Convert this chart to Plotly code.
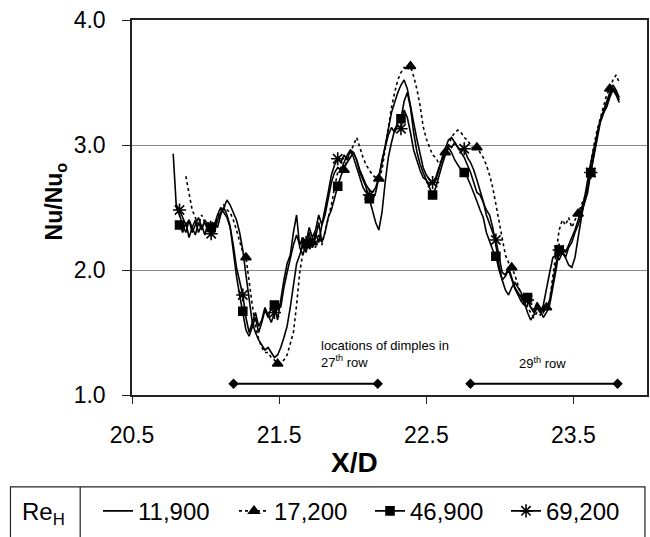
import plotly.graph_objects as go

# Measurement stations along the channel (X/D), equally spaced
XD_START = 20.78
XD_STEP = 0.0215

re_labels = ["11,900", "17,200", "46,900", "69,200"]

# Nu/Nu_o for each Reynolds number (one value per station, None = no data)
nu_11900 = [
    2.93, 2.50, 2.44, 2.36, 2.30, 2.40, 2.34, 2.28, 2.38, 2.32,
    2.40, 2.36, 2.30, 2.38, 2.34, 2.44, 2.50, 2.56, 2.52, 2.46,
    2.40, 2.30, 2.16, 1.96, 1.76, 1.58, 1.50, 1.44, 1.40, 1.36,
    1.38, 1.34, 1.30, 1.32, 1.38, 1.46, 1.55, 1.70, 1.88, 2.05,
    2.12, 2.20, 2.14, 2.26, 2.18, 2.30, 2.22, 2.36, 2.44, 2.58,
    2.70, 2.78, 2.82, 2.80, 2.86, 2.92, 2.96, 2.94, 2.88, 2.80,
    2.74, 2.68, 2.64, 2.62, 2.66, 2.74, 2.86, 3.00, 3.15, 3.26,
    3.34, 3.42, 3.48, 3.52, 3.45, 3.30, 3.18, 3.05, 2.92, 2.82,
    2.76, 2.72, 2.69, 2.72, 2.80, 2.90, 2.98, 3.04, 3.06, 3.02,
    2.98, 2.94, 2.90, 2.84, 2.78, 2.70, 2.62, 2.60, 2.54, 2.48,
    2.44, 2.34, 2.20, 2.04, 1.92, 1.84, 1.80, 1.86, 1.90, 1.86,
    1.82, 1.74, 1.66, 1.60, 1.64, 1.70, 1.66, 1.72, 1.86, 1.98,
    2.10, 2.12, 2.08, 2.14, 2.10, 2.04, 2.02, 2.10, 2.26, 2.42,
    2.58, 2.72, 2.86, 2.98, 3.08, 3.20, 3.26, 3.30, 3.38, 3.44,
    3.40, 3.34,
]

nu_17200 = [
    None, None, None, None, 2.75, 2.62, 2.48, 2.42, 2.36, 2.44,
    2.38, 2.32, 2.40, 2.34, 2.42, 2.48, 2.52, 2.48, 2.46, 2.40,
    2.32, 2.22, 2.14, 2.10, 1.90, 1.72, 1.55, 1.45, 1.38, 1.34,
    1.34, 1.30, 1.28, 1.25, 1.26, 1.28, 1.32, 1.40, 1.50, 1.72,
    1.98, 2.14, 2.20, 2.16, 2.22, 2.18, 2.28, 2.20, 2.30, 2.40,
    2.52, 2.66, 2.78, 2.82, 2.80, 2.88, 2.94, 3.00, 3.06, 2.98,
    2.90, 2.84, 2.80, 2.76, 2.74, 2.73, 2.80, 2.96, 3.12, 3.30,
    3.42, 3.52, 3.58, 3.62, 3.60, 3.63, 3.55, 3.45, 3.32, 3.15,
    3.05, 2.98, 2.92, 2.90, 2.85, 2.88, 2.94, 3.00, 3.06, 3.10,
    3.12, 3.10, 3.06, 3.04, 3.00, 2.96, 2.98, 2.94, 2.90, 2.84,
    2.76, 2.66, 2.52, 2.38, 2.24, 2.12, 2.06, 2.02, 1.96, 1.88,
    1.80, 1.74, 1.70, 1.66, 1.62, 1.66, 1.64, 1.68, 1.70, 1.76,
    1.95, 2.15, 2.32, 2.40, 2.36, 2.42, 2.34, 2.40, 2.45, 2.52,
    2.58, 2.70, 2.86, 3.00, 3.12, 3.22, 3.32, 3.40, 3.45, 3.52,
    3.56, 3.50,
]

nu_46900 = [
    None, 2.38, 2.36, 2.30, 2.38, 2.26, 2.34, 2.40, 2.30, 2.36,
    2.28, 2.38, 2.34, 2.30, 2.40, 2.46, 2.50, 2.44, 2.35, 2.15,
    1.95, 1.80, 1.67, 1.52, 1.47, 1.55, 1.62, 1.50, 1.58, 1.68,
    1.62, 1.70, 1.72, 1.60, 1.78, 1.92, 2.05, 2.12, 2.30, 2.44,
    2.18, 2.12, 2.21, 2.30, 2.18, 2.26, 2.38, 2.22, 2.30, 2.42,
    2.48, 2.58, 2.67, 2.75, 2.82, 2.86, 2.90, 2.94, 2.88, 2.78,
    2.72, 2.66, 2.57, 2.48, 2.38, 2.32, 2.46, 2.70, 2.90, 3.02,
    3.12, 3.18, 3.21, 3.35, 3.42, 3.30, 3.10, 2.95, 2.85, 2.78,
    2.72, 2.65, 2.60, 2.66, 2.76, 2.84, 2.92, 2.98, 2.94, 2.88,
    2.84, 2.80, 2.78, 2.74, 2.68, 2.62, 2.55, 2.48, 2.42, 2.30,
    2.22, 2.16, 2.11, 2.00, 1.92, 1.95, 2.00, 1.92, 1.85, 1.80,
    1.75, 1.72, 1.78, 1.70, 1.66, 1.72, 1.68, 1.62, 1.66, 1.72,
    1.85, 2.00, 2.16, 2.15, 2.10, 2.18, 2.22, 2.30, 2.36, 2.45,
    2.52, 2.62, 2.78, 2.92, 3.05, 3.18, 3.25, 3.32, 3.40, 3.45,
    3.42, 3.36,
]

nu_69200 = [
    None, 2.52, 2.48, 2.42, 2.36, 2.40, 2.30, 2.36, 2.42, 2.34,
    2.38, 2.32, 2.29, 2.36, 2.44, 2.50, 2.46, 2.42, 2.34, 2.20,
    2.02, 1.90, 1.80, 1.62, 1.50, 1.58, 1.66, 1.55, 1.60, 1.70,
    1.64, 1.58, 1.66, 1.74, 1.70, 1.86, 1.98, 2.10, 2.20, 2.28,
    2.20, 2.26, 2.22, 2.34, 2.26, 2.32, 2.44, 2.36, 2.48, 2.62,
    2.76, 2.84, 2.89, 2.86, 2.92, 2.88, 2.96, 2.90, 2.82, 2.74,
    2.66, 2.62, 2.60, 2.56, 2.62, 2.74, 2.88, 2.98, 3.08, 3.14,
    3.10, 3.16, 3.13, 3.28, 3.22, 3.10, 2.96, 2.88, 2.80, 2.74,
    2.72, 2.68, 2.70, 2.74, 2.82, 2.88, 2.94, 3.00, 2.98, 3.02,
    2.98, 2.96, 2.97, 2.90, 2.86, 2.80, 2.72, 2.64, 2.55, 2.44,
    2.36, 2.30, 2.24, 2.10, 1.98, 1.96, 2.02, 1.94, 1.86, 1.82,
    1.78, 1.74, 1.76, 1.70, 1.68, 1.74, 1.70, 1.66, 1.70, 1.76,
    1.90, 2.05, 2.16, 2.18, 2.14, 2.20, 2.26, 2.32, 2.40, 2.48,
    2.56, 2.66, 2.78, 2.94, 3.08, 3.20, 3.28, 3.34, 3.42, 3.48,
    3.44, 3.38,
]

# Stations that carry a symbol on each curve
marks_17200 = [23, 33, 44, 54, 65, 75, 86, 96, 107, 118, 128, 138]
marks_46900 = [2, 12, 22, 32, 42, 52, 62, 72, 82, 92, 102, 112, 122, 132]
marks_69200 = [2, 12, 22, 32, 42, 52, 62, 72, 82, 92, 102, 112, 122, 132]

# Streamwise extent of the dimple rows
row27_xd = [21.19, 22.17]
row29_xd = [22.80, 23.80]
row_level = [1.09, 1.09]

FONT = "Arial, Liberation Sans, sans-serif"
BLACK = "black"


def stations(values):
    return [round(XD_START + i * XD_STEP, 4) for i in range(len(values))]


styles = {
    "11,900": dict(vals=nu_11900, dash="solid", marks=None, symbol=None, size=0),
    "17,200": dict(vals=nu_17200, dash="dot", marks=marks_17200, symbol="triangle-up", size=9),
    "46,900": dict(vals=nu_46900, dash="solid", marks=marks_46900, symbol="square", size=8),
    "69,200": dict(vals=nu_69200, dash="solid", marks=marks_69200, symbol="asterisk-open", size=11),
}

fig = go.Figure()

for label in re_labels:
    st = styles[label]
    xs = stations(st["vals"])
    fig.add_trace(go.Scatter(
        x=xs, y=st["vals"], mode="lines", showlegend=False,
        line=dict(color=BLACK, width=1.6, dash=st["dash"]),
        hoverinfo="skip",
    ))
    if st["marks"]:
        fig.add_trace(go.Scatter(
            x=[xs[i] for i in st["marks"]],
            y=[st["vals"][i] for i in st["marks"]],
            mode="markers", showlegend=False,
            marker=dict(symbol=st["symbol"], size=st["size"], color=BLACK,
                        line=dict(color=BLACK, width=1.6)),
            hoverinfo="skip",
        ))

# legend entries (line sample with its symbol)
for label in re_labels:
    st = styles[label]
    fig.add_trace(go.Scatter(
        x=[None], y=[None], name=label,
        mode="lines+markers" if st["symbol"] else "lines",
        line=dict(color=BLACK, width=1.6, dash=st["dash"]),
        marker=dict(symbol=st["symbol"] or "circle", size=st["size"] or 1, color=BLACK,
                    line=dict(color=BLACK, width=1.6)),
    ))

# dimple-row extents
for xr in (row27_xd, row29_xd):
    fig.add_trace(go.Scatter(
        x=xr, y=row_level, mode="lines+markers", showlegend=False,
        line=dict(color=BLACK, width=2),
        marker=dict(symbol="diamond", size=8, color=BLACK),
        hoverinfo="skip",
    ))

fig.add_annotation(x=21.77, y=1.325, xref="x", yref="y", xanchor="left", yanchor="middle",
                   align="left", showarrow=False,
                   text="locations of dimples in<br>27<sup>th</sup> row",
                   font=dict(family=FONT, size=13, color=BLACK))
fig.add_annotation(x=23.29, y=1.26, xref="x", yref="y", xanchor="center", yanchor="middle",
                   showarrow=False, text="29<sup>th</sup> row",
                   font=dict(family=FONT, size=13, color=BLACK))

# axis titles
fig.add_annotation(x=0.433, y=-0.179, xref="paper", yref="paper", xanchor="center",
                   yanchor="middle", showarrow=False, text="<b>X/D</b>",
                   font=dict(family=FONT, size=28, color=BLACK))
fig.add_annotation(x=-0.149, y=0.517, xref="paper", yref="paper", xanchor="center",
                   yanchor="middle", showarrow=False, textangle=-90,
                   text="<b>Nu/Nu<sub>o</sub></b>",
                   font=dict(family=FONT, size=23, color=BLACK))

# legend frame, heading cell and divider
fig.add_shape(type="rect", xref="paper", yref="paper",
              x0=-0.236, x1=0.996, y0=-0.245, y1=-0.42,
              line=dict(color="#222", width=1.2))
fig.add_shape(type="line", xref="paper", yref="paper",
              x0=-0.1006, x1=-0.1006, y0=-0.245, y1=-0.42,
              line=dict(color="#222", width=1.2))
fig.add_annotation(x=-0.217, y=-0.315, xref="paper", yref="paper", xanchor="left",
                   yanchor="middle", showarrow=False, text="Re<sub>H</sub>",
                   font=dict(family=FONT, size=24, color=BLACK))

fig.update_layout(
    width=650, height=537,
    margin=dict(l=132, r=1, t=20, b=142),
    paper_bgcolor="white", plot_bgcolor="white",
    font=dict(family=FONT, color=BLACK),
    showlegend=True,
    legend=dict(
        orientation="h", x=-0.066, xanchor="left", y=-0.25, yanchor="top",
        bgcolor="rgba(0,0,0,0)", borderwidth=0,
        font=dict(family=FONT, size=24, color=BLACK),
        entrywidth=91, entrywidthmode="pixels",
        itemwidth=30,
    ),
    xaxis=dict(
        range=[20.5, 24.0], tick0=20.5, dtick=1, tickformat=".1f",
        showgrid=False, zeroline=False,
        showline=True, linecolor="#222", linewidth=1.5, mirror=True,
        ticks="outside", ticklen=7, tickcolor="#222",
        tickfont=dict(family=FONT, size=23, color=BLACK),
        ticklabelstandoff=12,
    ),
    yaxis=dict(
        range=[1.0, 4.0], tick0=1.0, dtick=1, tickformat=".1f",
        showgrid=True, gridcolor="#888", gridwidth=1, zeroline=False,
        showline=True, linecolor="#222", linewidth=1.5, mirror=True,
        ticks="outside", ticklen=8, tickcolor="#222",
        tickfont=dict(family=FONT, size=23, color=BLACK),
        ticklabelstandoff=12,
    ),
)

fig.write_html("out.html")
